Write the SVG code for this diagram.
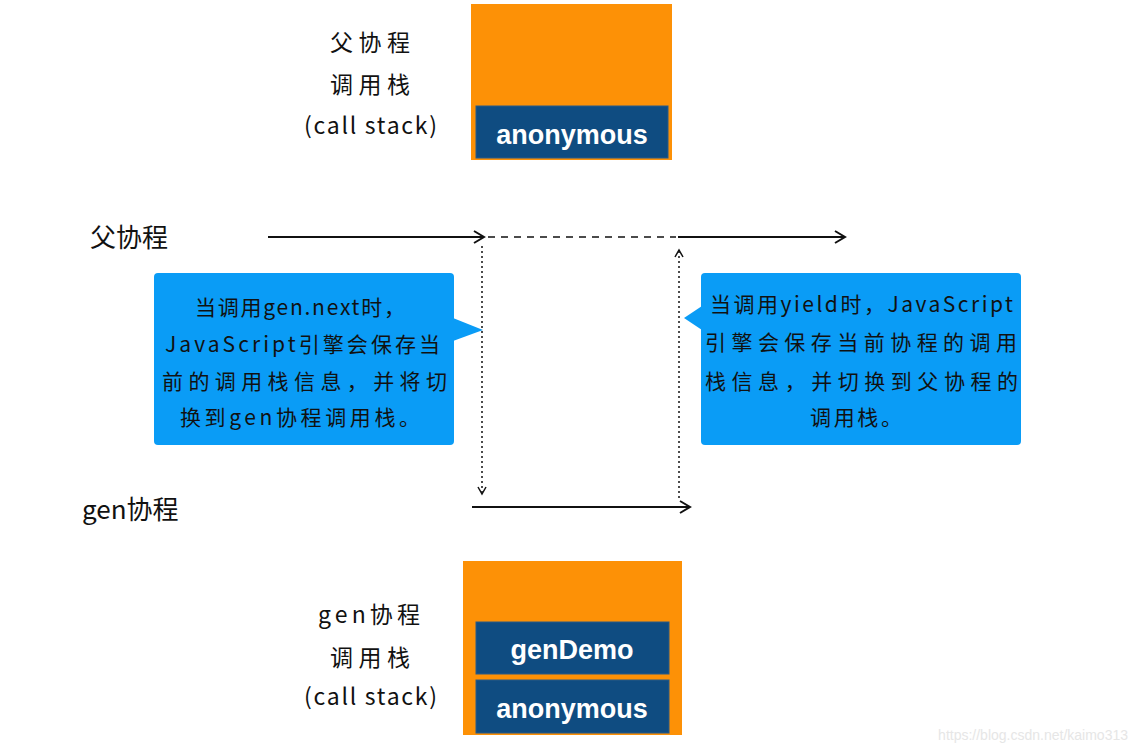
<svg xmlns="http://www.w3.org/2000/svg" width="1138" height="752" viewBox="0 0 1138 752">
<defs>
<style>
.lbl{font-family:"Noto Sans CJK SC","Noto Sans",sans-serif;font-size:23px;fill:#111}
.big{font-family:"Noto Sans CJK SC","Noto Sans",sans-serif;font-size:26px;fill:#111}
.frame{font-family:"Liberation Sans",Arial,sans-serif;font-weight:bold;font-size:27px;fill:#fff;text-anchor:middle}
.orange{fill:#fd9106}
.blue{fill:#0f4c81;stroke:#2a5a86;stroke-width:1}
.call{fill:#0a9cf6}
.ct{font-family:"Noto Sans CJK SC","Noto Sans",sans-serif;font-size:21px;fill:#111}
.ln{stroke:#111;stroke-width:2;fill:none}
.dash{stroke:#111;stroke-width:1.5;fill:none;stroke-dasharray:7 6}
.dot{stroke:#111;stroke-width:1.5;fill:none;stroke-dasharray:2 3}
</style>
<marker id="ah" markerWidth="14" markerHeight="14" refX="11" refY="7" orient="auto" markerUnits="userSpaceOnUse">
<path d="M1,1 L11,7 L1,13" fill="none" stroke="#111" stroke-width="2"/>
</marker>
<marker id="ahs" markerWidth="10" markerHeight="10" refX="8" refY="5" orient="auto" markerUnits="userSpaceOnUse">
<path d="M1,1 L8,5 L1,9" fill="none" stroke="#111" stroke-width="1.5"/>
</marker>
</defs>
<rect width="1138" height="752" fill="#fff"/>

<g id="parent-stack">
<rect class="orange" x="471" y="4" width="201" height="156"/>
<rect class="blue" x="476" y="106" width="192" height="52"/>
<text class="frame" x="572" y="144">anonymous</text>
</g>
<g id="parent-stack-label">
<text class="lbl" x="330" y="51" textLength="80" lengthAdjust="spacing">父协程</text>
<text class="lbl" x="330" y="93" textLength="80" lengthAdjust="spacing">调用栈</text>
<text class="lbl" x="304" y="134" textLength="133" lengthAdjust="spacing">(call stack)</text>
</g>

<g id="parent-label"><text class="big" x="90" y="247">父协程</text></g>
<g id="gen-label"><text class="big" x="82" y="519">gen协程</text></g>

<g id="callout-left">
<rect class="call" x="154" y="273" width="300" height="172" rx="4"/>
<polygon class="call" points="453,318 483,330 453,341"/>
<text class="ct" x="195" y="315" textLength="210" lengthAdjust="spacing">当调用gen.next时，</text>
<text class="ct" x="165" y="352" textLength="275" lengthAdjust="spacing">JavaScript引擎会保存当</text>
<text class="ct" x="162" y="389" textLength="285" lengthAdjust="spacing">前的调用栈信息，并将切</text>
<text class="ct" x="180" y="425" textLength="240" lengthAdjust="spacing">换到gen协程调用栈。</text>
</g>

<g id="callout-right">
<rect class="call" x="701" y="273" width="320" height="172" rx="4"/>
<polygon class="call" points="702,306 684,318 702,330"/>
<text class="ct" x="710" y="312" textLength="303" lengthAdjust="spacing">当调用yield时，JavaScript</text>
<text class="ct" x="705" y="350" textLength="312" lengthAdjust="spacing">引擎会保存当前协程的调用</text>
<text class="ct" x="705" y="389" textLength="313" lengthAdjust="spacing">栈信息，并切换到父协程的</text>
<text class="ct" x="810" y="425" textLength="92" lengthAdjust="spacing">调用栈。</text>
</g>

<g id="gen-stack">
<rect class="orange" x="463" y="561" width="219" height="174"/>
<rect class="blue" x="476" y="622" width="193" height="52"/>
<text class="frame" x="572" y="659">genDemo</text>
<rect class="blue" x="476" y="680" width="193" height="53"/>
<text class="frame" x="572" y="718">anonymous</text>
</g>
<g id="gen-stack-label">
<text class="lbl" x="318" y="623" textLength="102" lengthAdjust="spacing">gen协程</text>
<text class="lbl" x="330" y="666" textLength="80" lengthAdjust="spacing">调用栈</text>
<text class="lbl" x="304" y="705" textLength="133" lengthAdjust="spacing">(call stack)</text>
</g>

<g id="connectors">
<line class="ln" x1="268" y1="237" x2="484" y2="237" marker-end="url(#ah)"/>
<line class="dash" x1="488" y1="237" x2="676" y2="237"/>
<line class="ln" x1="678" y1="237" x2="845" y2="237" marker-end="url(#ah)"/>
<line class="dot" x1="482" y1="246" x2="482" y2="494" marker-end="url(#ahs)"/>
<line class="dot" x1="679" y1="498" x2="679" y2="250" marker-end="url(#ahs)"/>
<line class="ln" x1="472" y1="507" x2="690" y2="507" marker-end="url(#ah)"/>
</g>

<text x="1128" y="740" font-family="Liberation Sans,Arial,sans-serif" font-size="14" fill="#e6e6e6" text-anchor="end">https://blog.csdn.net/kaimo313</text>
</svg>
